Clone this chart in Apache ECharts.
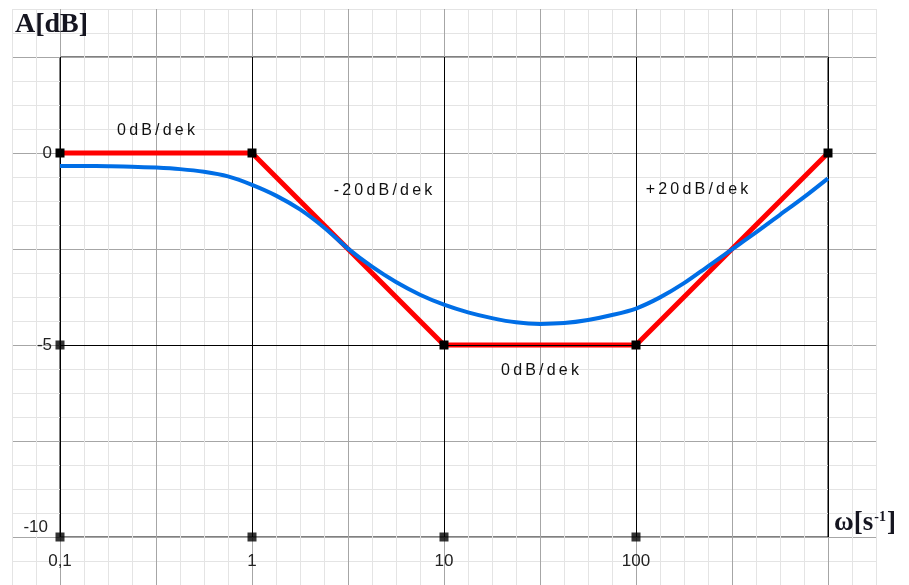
<!DOCTYPE html>
<html>
<head>
<meta charset="utf-8">
<title>Bode</title>
<script src="https://cdn.jsdelivr.net/npm/echarts@6/dist/echarts.min.js"></script>
<style>
  html, body { margin: 0; padding: 0; background: #fff; }
  #main { width: 909px; height: 585px; }
</style>
</head>
<body>
<div id="main"></div>
<script>
var omega = [0.1, 0.1334, 0.1778, 0.2371, 0.3162, 0.4217, 0.5623, 0.7499,
  1, 1.334, 1.778, 2.371, 3.162, 4.217, 5.623, 7.499,
  10, 13.34, 17.78, 23.71, 31.62, 42.17, 56.23, 74.99,
  100, 133.4, 177.8, 237.1, 316.2, 421.7, 562.3, 749.9, 1000];
var realDb = [-0.34, -0.34, -0.345, -0.355, -0.38, -0.42, -0.49, -0.61,
  -0.83, -1.11, -1.47, -1.94, -2.49, -2.96, -3.36, -3.69,
  -3.95, -4.15, -4.30, -4.41, -4.45, -4.43, -4.35, -4.22,
  -4.05, -3.76, -3.39, -2.95, -2.51, -2.07, -1.61, -1.15, -0.66];

// asymptotes
var asymOmega = [0.1, 1, 10, 100, 1000];
var asymDb = [0, 0, -5, -5, 0];

// black squares on the axes
var tickOmega = [0.1, 0.1, 1, 10, 100];
var tickDb = [-5, -10, -10, -10, -10];

var slopeLabels = ['0dB/dek', '-20dB/dek', '+20dB/dek', '0dB/dek'];

function pairs(xs, ys) {
  var out = [];
  for (var i = 0; i < xs.length; i++) out.push([xs[i], ys[i]]);
  return out;
}
function spaced(s) {
  return s.split('').join('\u2009');
}

var light = '#e4e4e4', mid = '#a6a6a6';
var txtFont = '"Liberation Sans", Arial, sans-serif';
var serif = '"Liberation Serif", "Times New Roman", serif';

var chart = echarts.init(document.getElementById('main'));

var option = {
  backgroundColor: '#fff',
  animation: false,
  grid: [
    { left: 12, right: 33, top: 9, bottom: 0 },   // fine grid
    { left: 60, right: 81, top: 9, bottom: 0 },   // half-decade verticals
    { left: 12, right: 33, top: 57, bottom: 48 }, // 2.5 dB horizontals
    { left: 60, right: 81, top: 57, bottom: 48, show: true, borderColor: '#000', borderWidth: 1 }
  ],
  xAxis: [
    { gridIndex: 0, type: 'value', min: 0, max: 36, interval: 1, axisLine: { show: false }, axisTick: { show: false }, axisLabel: { show: false },
      splitLine: { lineStyle: { color: light, width: 1 } } },
    { gridIndex: 1, type: 'value', min: 0, max: 8, interval: 1, axisLine: { show: false }, axisTick: { show: false }, axisLabel: { show: false },
      splitLine: { lineStyle: { color: mid, width: 1 } } },
    { gridIndex: 2, type: 'value', min: 0, max: 1, show: false },
    { gridIndex: 3, type: 'log', logBase: 10, min: 0.1, max: 1000,
      axisLine: { show: false }, axisTick: { show: false },
      splitLine: { show: true, lineStyle: { color: '#000', width: 1 } },
      axisLabel: {
        margin: 16, color: '#222', fontSize: 17, fontFamily: txtFont,
        formatter: function (v) {
          if (v < 0.5) return '0,1';
          if (v > 500) return '';
          return String(Math.round(v));
        }
      } }
  ],
  yAxis: [
    { gridIndex: 0, type: 'value', min: 0, max: 24, interval: 1, axisLine: { show: false }, axisTick: { show: false }, axisLabel: { show: false },
      splitLine: { lineStyle: { color: light, width: 1 } } },
    { gridIndex: 1, type: 'value', min: 0, max: 1, show: false },
    { gridIndex: 2, type: 'value', min: 0, max: 5, interval: 1, axisLine: { show: false }, axisTick: { show: false }, axisLabel: { show: false },
      splitLine: { lineStyle: { color: mid, width: 1 } } },
    { gridIndex: 3, type: 'value', min: -10, max: 2.5, interval: 2.5,
      axisLine: { show: false }, axisTick: { show: false }, splitLine: { show: false },
      axisLabel: {
        margin: 8, color: '#222', fontSize: 17, fontFamily: txtFont,
        formatter: function (v) {
          if (v === 0 || v === -5) return String(v);
          if (v === -10) return '{lo|-10}';
          return '';
        },
        rich: { lo: { fontSize: 17, fontFamily: txtFont, color: '#222', padding: [0, 4, 20, 0] } }
      } }
  ],
  series: [
    {
      type: 'scatter', xAxisIndex: 3, yAxisIndex: 3, z: 2,
      symbol: 'rect', symbolSize: 9, itemStyle: { color: '#000' },
      data: pairs(tickOmega, tickDb),
      markLine: {
        silent: true, symbol: ['none', 'none'], label: { show: false },
        lineStyle: { color: '#000', width: 1, type: 'solid' },
        data: [{ yAxis: -5 }]
      }
    },
    {
      type: 'line', xAxisIndex: 3, yAxisIndex: 3, z: 3,
      data: pairs(asymOmega, asymDb),
      lineStyle: { color: '#ff0000', width: 5 },
      symbol: 'rect', symbolSize: 9, showSymbol: true,
      itemStyle: { color: '#000' }
    },
    {
      type: 'line', xAxisIndex: 3, yAxisIndex: 3, z: 4,
      data: pairs(omega, realDb),
      smooth: 0.3, showSymbol: false,
      lineStyle: { color: '#006ee6', width: 4 }
    }
  ],
  graphic: [
    { type: 'text', left: 15, top: 11, z: 10,
      style: { text: 'A[dB]', font: 'bold 28px ' + serif, fill: '#151520' } },
    { type: 'text', left: 834, top: 510, z: 10,
      style: { text: '{w|ω}{b|[s}{s|-1}{b|]}', fill: '#151520',
        rich: {
          w: { font: 'bold 27px ' + serif, fill: '#151520' },
          b: { font: 'bold 27px ' + serif, fill: '#151520' },
          s: { font: 'bold 14px ' + serif, fill: '#151520', verticalAlign: 'top', padding: [0, 1, 12, 1] }
        } } },
    { type: 'text', x: 156, y: 131, z: 10,
      style: { text: spaced(slopeLabels[0]), font: '16px ' + txtFont, fill: '#111', align: 'center', verticalAlign: 'middle' } },
    { type: 'text', x: 383, y: 191, z: 10,
      style: { text: spaced(slopeLabels[1]), font: '16px ' + txtFont, fill: '#111', align: 'center', verticalAlign: 'middle' } },
    { type: 'text', x: 697, y: 190, z: 10,
      style: { text: spaced(slopeLabels[2]), font: '16px ' + txtFont, fill: '#111', align: 'center', verticalAlign: 'middle' } },
    { type: 'text', x: 540, y: 371, z: 10,
      style: { text: spaced(slopeLabels[3]), font: '16px ' + txtFont, fill: '#111', align: 'center', verticalAlign: 'middle' } }
  ]
};

chart.setOption(option);
window.addEventListener('resize', function () { chart.resize(); });
</script>
</body>
</html>
